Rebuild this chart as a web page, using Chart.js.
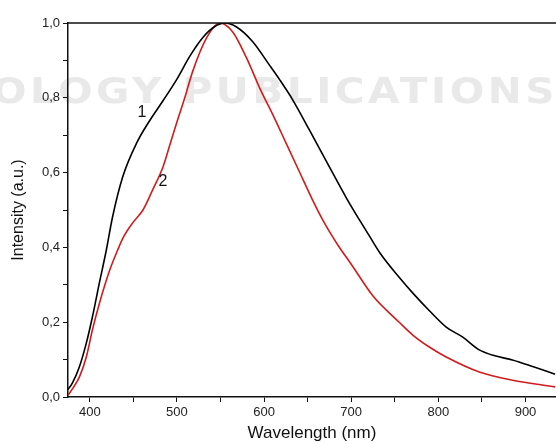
<!DOCTYPE html>
<html>
<head>
<meta charset="utf-8">
<script src="https://cdn.jsdelivr.net/npm/chart.js@4.4.0/dist/chart.umd.min.js"></script>
<style>
  body { margin: 0; background: #fff; }
  #wrap { width: 556px; height: 444px; }
</style>
</head>
<body>
<div id="wrap"><canvas id="spectra" width="556" height="444"></canvas></div>
<script>
// curve 1 (black)
const wl1 = [375, 380, 388, 396, 403, 411, 419, 426, 438, 454, 469, 484, 500, 515, 530, 543, 555, 568, 587, 606, 618, 633, 652, 672, 695, 721, 733, 755, 771, 790, 809, 828, 847, 865, 885, 910, 934];
const int1 = [0.02, 0.037, 0.08, 0.144, 0.214, 0.305, 0.393, 0.48, 0.59, 0.68, 0.74, 0.792, 0.85, 0.912, 0.962, 0.99, 1.0, 0.99, 0.95, 0.888, 0.848, 0.794, 0.714, 0.628, 0.53, 0.43, 0.385, 0.32, 0.277, 0.23, 0.187, 0.16, 0.126, 0.11, 0.099, 0.08, 0.061];
// curve 2 (red)
const wl2 = [375, 381, 388, 396, 403, 411, 423, 432, 438, 449, 461, 472, 484, 492, 500, 509, 518, 534, 549, 564, 580, 595, 610, 625, 640, 655, 670, 685, 700, 725, 755, 771, 790, 809, 847, 885, 934];
const int2 = [0.005, 0.025, 0.053, 0.107, 0.179, 0.25, 0.34, 0.393, 0.425, 0.465, 0.5, 0.553, 0.615, 0.675, 0.735, 0.8, 0.87, 0.96, 1.0, 0.976, 0.906, 0.826, 0.755, 0.68, 0.605, 0.53, 0.462, 0.405, 0.355, 0.27, 0.2, 0.165, 0.133, 0.107, 0.067, 0.045, 0.027];

const xTicks = [400, 450, 500, 550, 600, 650, 700, 750, 800, 850, 900];
const yTicks = [0, 0.1, 0.2, 0.3, 0.4, 0.5, 0.6, 0.7, 0.8, 0.9, 1.0];
const curveLabels = [
    { text: '1', x: 460, y: 0.76 },
    { text: '2', x: 484, y: 0.575 }
];

const toPoints = (xs, ys) => xs.map((x, i) => ({ x: x, y: ys[i] }));

// faint watermark + top frame line + curve numbers
const extras = {
    id: 'extras',
    beforeDraw(chart) {
        const ctx = chart.ctx;
        ctx.save();
        ctx.font = 'bold 35px "DejaVu Sans", sans-serif';
        ctx.fillStyle = '#e9e9e9';
        ctx.textBaseline = 'alphabetic';
        const txt = 'OLOGY PUBLICATIONS';
        ctx.letterSpacing = '3px';
        const w = ctx.measureText(txt).width;
        ctx.translate(-8, 103);
        ctx.scale(566 / w, 1);
        ctx.fillText(txt, 0, 0);
        ctx.restore();
    },
    afterDraw(chart) {
        const ctx = chart.ctx;
        const area = chart.chartArea;
        ctx.save();
        ctx.strokeStyle = '#111';
        ctx.lineWidth = 1.5;
        ctx.beginPath();
        ctx.moveTo(area.left, area.top);
        ctx.lineTo(area.right, area.top);
        ctx.stroke();
        ctx.fillStyle = '#111';
        ctx.font = '16px "Liberation Sans", Arial, sans-serif';
        ctx.textAlign = 'center';
        ctx.textBaseline = 'middle';
        curveLabels.forEach(l => {
            ctx.fillText(l.text, chart.scales.x.getPixelForValue(l.x), chart.scales.y.getPixelForValue(l.y));
        });
        ctx.restore();
    }
};

const ctx = document.getElementById('spectra').getContext('2d');
new Chart(ctx, {
    type: 'line',
    data: {
        datasets: [
            {
                label: '1',
                data: toPoints(wl1, int1),
                borderColor: '#000000',
                borderWidth: 1.6,
                pointRadius: 0,
                cubicInterpolationMode: 'monotone'
            },
            {
                label: '2',
                data: toPoints(wl2, int2),
                borderColor: '#d01c1c',
                borderWidth: 1.6,
                pointRadius: 0,
                cubicInterpolationMode: 'monotone'
            }
        ]
    },
    options: {
        responsive: false,
        animation: false,
        layout: { padding: { top: 23, right: 0, left: 0, bottom: 0 } },
        plugins: {
            legend: { display: false },
            tooltip: { enabled: false }
        },
        scales: {
            x: {
                type: 'linear',
                min: 375,
                max: 935,
                afterBuildTicks: axis => { axis.ticks = xTicks.map(v => ({ value: v })); },
                afterFit: axis => { axis.height = 47; },
                border: { color: '#111', width: 1.5 },
                grid: { drawOnChartArea: false, drawTicks: true, tickLength: 5, color: '#111' },
                ticks: {
                    autoSkip: false,
                    maxRotation: 0,
                    padding: 3,
                    color: '#222',
                    font: { family: '"Liberation Sans", Arial, sans-serif', size: 13 },
                    callback: v => (v % 100 === 0 ? String(v) : '')
                },
                title: {
                    display: true,
                    text: 'Wavelength (nm)',
                    color: '#111',
                    padding: { top: 0, bottom: 0 },
                    font: { family: '"Liberation Sans", Arial, sans-serif', size: 17 }
                }
            },
            y: {
                min: 0,
                max: 1,
                afterBuildTicks: axis => { axis.ticks = yTicks.map(v => ({ value: v })); },
                afterFit: axis => { axis.width = 68; },
                border: { color: '#111', width: 1.5 },
                grid: { drawOnChartArea: false, drawTicks: true, tickLength: 5, color: '#111' },
                ticks: {
                    autoSkip: false,
                    padding: 3,
                    color: '#222',
                    font: { family: '"Liberation Sans", Arial, sans-serif', size: 13 },
                    callback: v => {
                        const r = Math.round(v * 10);
                        return r % 2 === 0 ? (r / 10).toFixed(1).replace('.', ',') : '';
                    }
                },
                title: {
                    display: true,
                    text: 'Intensity (a.u.)',
                    color: '#111',
                    padding: { top: 9, bottom: 0 },
                    font: { family: '"Liberation Sans", Arial, sans-serif', size: 16 }
                }
            }
        }
    },
    plugins: [extras]
});
</script>
</body>
</html>
